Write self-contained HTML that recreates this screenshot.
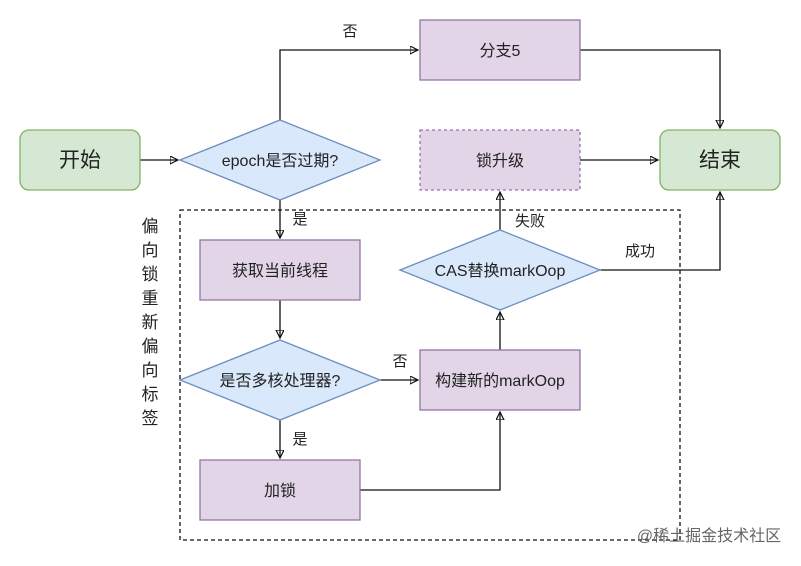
<!DOCTYPE html>
<html><head><meta charset="utf-8"><style>
body{margin:0;background:#fff;width:801px;height:561px;overflow:hidden}
text{font-family:"Liberation Sans","Noto Sans CJK SC",sans-serif;fill:#222}
</style></head><body>
<svg width="801" height="561" viewBox="0 0 801 561">
<defs><marker id="a" markerWidth="10" markerHeight="10" refX="8" refY="4" orient="auto" markerUnits="userSpaceOnUse"><path d="M0,0 L8,4 L0,8 Z" fill="none" stroke="#111" stroke-width="1.2"/></marker></defs>
<g stroke="#111" stroke-width="1.3" fill="none">
<rect x="180" y="210" width="500" height="330" stroke-dasharray="4,3"/>
<path d="M140,160 H178" marker-end="url(#a)"/>
<path d="M280,120 V50 H418" marker-end="url(#a)"/>
<path d="M580,50 H720 V128" marker-end="url(#a)"/>
<path d="M580,160 H658" marker-end="url(#a)"/>
<path d="M280,200 V238" marker-end="url(#a)"/>
<path d="M280,300 V338" marker-end="url(#a)"/>
<path d="M280,420 V458" marker-end="url(#a)"/>
<path d="M380,380 H418" marker-end="url(#a)"/>
<path d="M360,490 H500 V412" marker-end="url(#a)"/>
<path d="M500,350 V312" marker-end="url(#a)"/>
<path d="M500,230 V192" marker-end="url(#a)"/>
<path d="M600,270 H720 V192" marker-end="url(#a)"/>
</g>
<rect x="20" y="130" width="120" height="60" rx="9" fill="#d5e8d4" stroke="#82b366" stroke-width="1.3"/>
<rect x="660" y="130" width="120" height="60" rx="9" fill="#d5e8d4" stroke="#82b366" stroke-width="1.3"/>
<g fill="#e1d5e7" stroke="#9673a6" stroke-width="1.3">
<rect x="420" y="20" width="160" height="60"/>
<rect x="420" y="130" width="160" height="60" stroke-dasharray="3,3"/>
<rect x="200" y="240" width="160" height="60"/>
<rect x="420" y="350" width="160" height="60"/>
<rect x="200" y="460" width="160" height="60"/>
</g>
<g fill="#dae8fc" stroke="#6c8ebf" stroke-width="1.3">
<path d="M180,160 L280,120 L380,160 L280,200 Z"/>
<path d="M180,380 L280,340 L380,380 L280,420 Z"/>
<path d="M400,270 L500,230 L600,270 L500,310 Z"/>
</g>
<g font-size="16" text-anchor="middle">
<text x="80" y="167" font-size="21">开始</text>
<text x="720" y="167" font-size="21">结束</text>
<text x="500" y="56">分支5</text>
<text x="500" y="166">锁升级</text>
<text x="280" y="276">获取当前线程</text>
<text x="500" y="386">构建新的markOop</text>
<text x="280" y="496">加锁</text>
<text x="280" y="166">epoch是否过期?</text>
<text x="280" y="386">是否多核处理器?</text>
<text x="500" y="276">CAS替换markOop</text>
<text x="350" y="36" font-size="15">否</text>
<text x="300" y="224" font-size="15">是</text>
<text x="300" y="444" font-size="15">是</text>
<text x="400" y="366" font-size="15">否</text>
<text x="530" y="226" font-size="15">失败</text>
<text x="640" y="256" font-size="15">成功</text>
<text x="709" y="541" font-size="16" style="fill:#666">@稀土掘金技术社区</text>
</g>
<g font-size="17" text-anchor="middle">
<text x="150" y="232">偏</text><text x="150" y="256">向</text><text x="150" y="280">锁</text><text x="150" y="304">重</text><text x="150" y="328">新</text><text x="150" y="352">偏</text><text x="150" y="376">向</text><text x="150" y="400">标</text><text x="150" y="424">签</text>
</g>
</svg>
</body></html>
